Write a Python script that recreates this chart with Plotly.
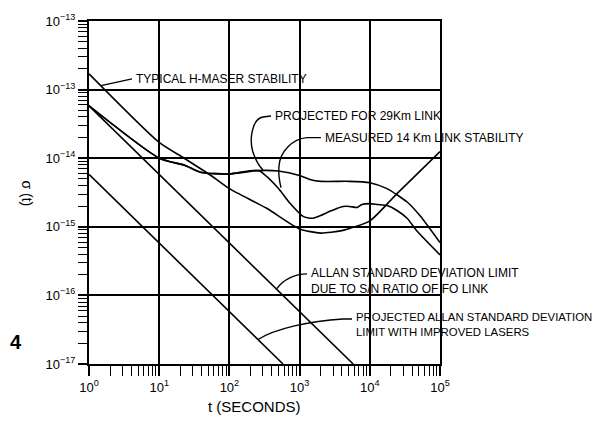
import plotly.graph_objects as go

# ---------------- data ----------------
tau_maser = [1, 10, 23, 56, 100, 340, 1000, 2000, 4000, 10000, 24000, 100000]
sig_maser = [1.7e-13, 1.7e-14, 9.9e-15, 5.5e-15, 3.6e-15, 1.86e-15, 9.3e-16,
             8.1e-16, 8.8e-16, 1.22e-15, 3.0e-15, 1.25e-14]

tau_proj = [1, 10, 23, 40, 100, 260, 500, 1000, 1400, 2000, 5000, 10000,
            17600, 34000, 52000, 100000]
sig_proj = [5.8e-14, 1.0e-14, 7.9e-15, 6.2e-15, 5.9e-15, 6.6e-15, 6.5e-15,
            5.6e-15, 4.9e-15, 4.6e-15, 4.6e-15, 4.4e-15, 3.6e-15, 2.3e-15,
            1.45e-15, 5.9e-16]

tau_meas = [1, 10, 23, 40, 100, 260, 480, 730, 1120, 1500, 1950, 2700, 3400,
            4150, 5200, 6600, 7700, 10000, 13000, 17600, 24400, 34000, 47000,
            100000]
sig_meas = [5.8e-14, 1.0e-14, 7.9e-15, 6.2e-15, 5.9e-15, 6.6e-15, 3.8e-15,
            2.2e-15, 1.42e-15, 1.33e-15, 1.45e-15, 1.68e-15, 1.85e-15,
            1.98e-15, 1.98e-15, 1.91e-15, 2.11e-15, 2.18e-15, 2.11e-15,
            2.04e-15, 1.73e-15, 1.33e-15, 8.7e-16, 3.9e-16]

tau_sn = [1, 5800]
sig_sn = [5.8e-14, 1e-17]

tau_improved = [1, 580]
sig_improved = [5.8e-15, 1e-17]

x_tickvals = [1, 10, 100, 1000, 10000, 100000]
x_ticktext = ["10<sup>0</sup>", "10<sup>1</sup>", "10<sup>2</sup>",
              "10<sup>3</sup>", "10<sup>4</sup>", "10<sup>5</sup>"]
y_tickvals = [1e-17, 1e-16, 1e-15, 1e-14, 1e-13, 1e-12]
y_ticktext = ["10<sup>−17</sup>", "10<sup>−16</sup>", "10<sup>−15</sup>",
              "10<sup>−14</sup>", "10<sup>−13</sup>", "10<sup>−13</sup>"]

label_maser = "TYPICAL H-MASER STABILITY"
label_proj = "PROJECTED FOR 29Km LINK"
label_meas = "MEASURED 14 Km LINK STABILITY"
label_sn = "ALLAN STANDARD DEVIATION LIMIT<br>DUE TO S/N RATIO OF FO LINK"
label_improved = "PROJECTED ALLAN STANDARD DEVIATION<br>LIMIT WITH IMPROVED LASERS"
x_title = "t (SECONDS)"
y_title = "σ (t)"

# ---------------- figure ----------------
W, H = 601, 423
L, R, T, B = 89, 161, 14, 59
PW, PH = W - L - R, H - T - B


def px(x):
    return (x - L) / PW


def py(y):
    return (H - B - y) / PH


FONT = "Liberation Sans, Arial, sans-serif"
line_style = dict(color="black", width=1.6)

fig = go.Figure()
fig.add_trace(go.Scatter(x=tau_maser, y=sig_maser, mode="lines",
                         line=dict(shape="spline", smoothing=0.6, **line_style)))
fig.add_trace(go.Scatter(x=tau_proj, y=sig_proj, mode="lines",
                         line=dict(shape="spline", smoothing=0.6, **line_style)))
fig.add_trace(go.Scatter(x=tau_meas, y=sig_meas, mode="lines",
                         line=dict(shape="spline", smoothing=0.6, **line_style)))
fig.add_trace(go.Scatter(x=tau_sn, y=sig_sn, mode="lines", line=line_style))
fig.add_trace(go.Scatter(x=tau_improved, y=sig_improved, mode="lines",
                         line=line_style))


def minor_vals(lo, hi):
    vals = []
    for d in range(lo, hi):
        for k in range(2, 10):
            vals.append(k * 10.0 ** d)
    return vals


axis_common = dict(
    type="log", showline=True, linecolor="black", linewidth=2, mirror=True,
    showgrid=True, gridcolor="black", gridwidth=1.6, zeroline=False,
    ticks="outside", tickcolor="black", tickwidth=1.5,
    tickmode="array",
    tickfont=dict(family=FONT, size=13, color="black"),
)

fig.update_xaxes(range=[0, 5], tickvals=x_tickvals, ticktext=x_ticktext,
                 ticklen=10,
                 minor=dict(tickmode="array", tickvals=minor_vals(0, 5),
                            ticks="outside", ticklen=10, tickwidth=1.3,
                            tickcolor="black", showgrid=False),
                 **axis_common)
fig.update_yaxes(range=[-17, -12], tickvals=y_tickvals, ticktext=y_ticktext,
                 ticklen=9,
                 minor=dict(tickmode="array", tickvals=minor_vals(-17, -12),
                            ticks="outside", ticklen=9, tickwidth=1.3,
                            tickcolor="black", showgrid=False),
                 **axis_common)

ann_font = dict(family=FONT, size=12, color="black")
annotations = [
    dict(text=label_maser, x=px(134), y=py(73), xanchor="left", yanchor="middle"),
    dict(text=label_proj, x=px(273), y=py(111), xanchor="left", yanchor="middle"),
    dict(text=label_meas, x=px(323), y=py(133), xanchor="left", yanchor="middle"),
    dict(text=label_sn, x=px(309), y=py(279), xanchor="left", yanchor="middle", align="left"),
    dict(text=label_improved, x=px(354), y=py(324), xanchor="left", yanchor="middle", align="left",
         font=dict(family=FONT, size=11.4, color="black")),
    dict(text=x_title, x=px(254), y=py(407), xanchor="center", yanchor="middle",
         font=dict(family=FONT, size=15, color="black")),
    dict(text=y_title, x=px(27), y=py(190), xanchor="center", yanchor="middle",
         textangle=90, font=dict(family=FONT, size=14, color="black")),
    dict(text="<b>4</b>", x=px(16), y=py(342), xanchor="center", yanchor="middle",
         font=dict(family=FONT, size=20, color="black")),
]
for a in annotations:
    a.setdefault("font", ann_font)
    a.update(xref="paper", yref="paper", showarrow=False)


def path(cmds):
    out = []
    for c in cmds:
        if isinstance(c, str):
            out.append(c)
        else:
            out.append(f"{px(c[0]):.4f},{py(c[1]):.4f}")
    return " ".join(out)


leaders = [
    ["M", (132, 73), "L", (101, 80)],
    ["M", (271, 111), "L", (263, 112), "C", (252, 114), (249, 135), (253, 148),
     "C", (256, 157), (259, 162), (263, 166)],
    ["M", (321, 133), "L", (307, 133), "C", (292, 134), (280, 148), (279, 162),
     "C", (278, 172), (280, 180), (281, 184)],
    ["M", (307, 272), "C", (295, 272), (283, 278), (277, 287)],
    ["M", (352, 318), "L", (343, 318), "C", (310, 320), (275, 328), (258, 339)],
]
shapes = [dict(type="path", path=path(p), xref="paper", yref="paper",
               line=dict(color="black", width=1.4)) for p in leaders]

fig.update_layout(
    width=W, height=H, autosize=False,
    margin=dict(l=L, r=R, t=T, b=B, pad=0),
    paper_bgcolor="white", plot_bgcolor="white",
    showlegend=False,
    annotations=annotations, shapes=shapes,
    font=dict(family=FONT, color="black"),
)

fig.write_html("out.html")
